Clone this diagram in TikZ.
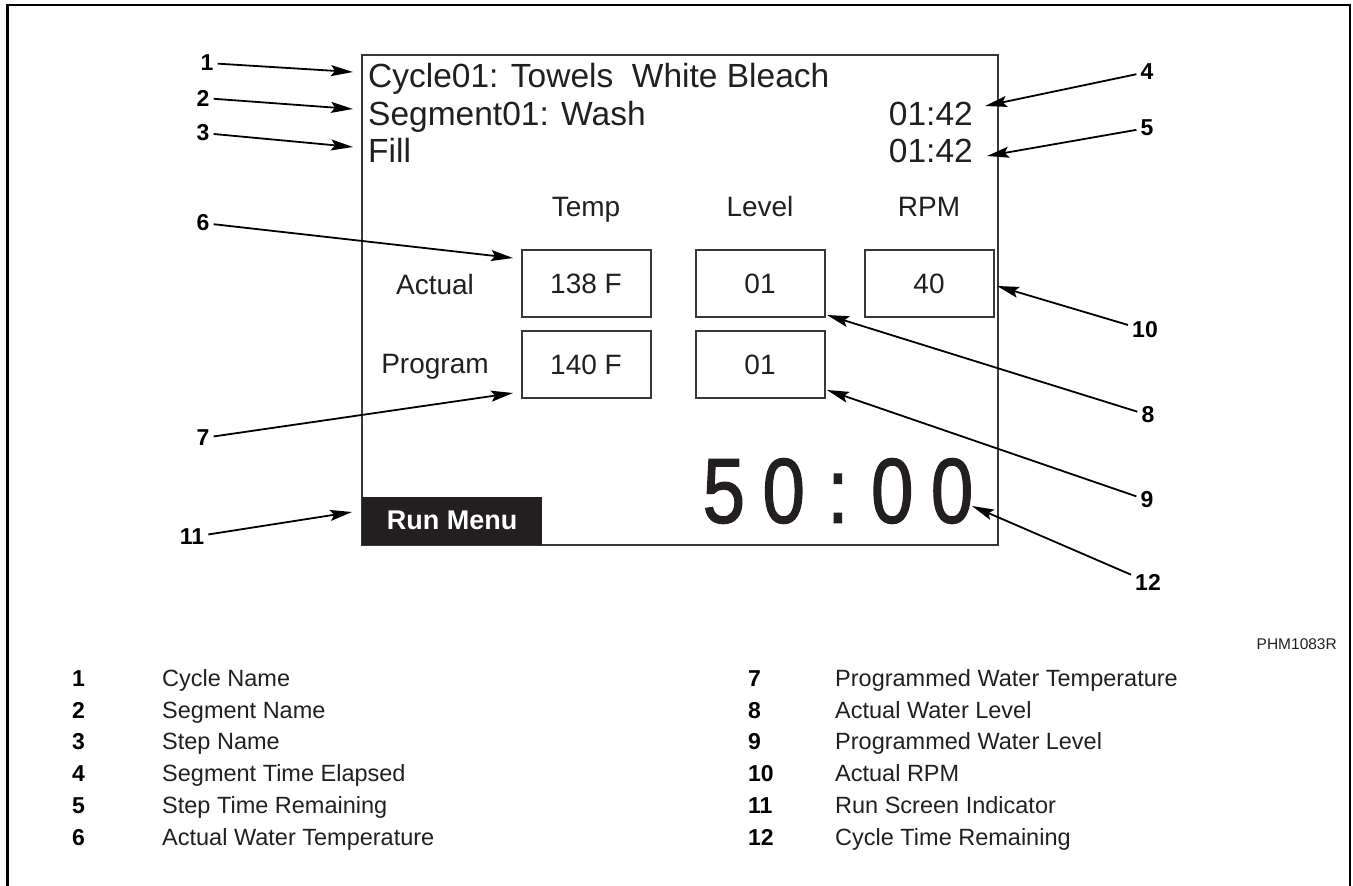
\documentclass[tikz,border=0pt]{standalone}
\usepackage{fontspec}
\setmainfont{Liberation Sans}
\newfontfamily\clockfont[FakeBold=1.6]{Liberation Sans}
\usepackage{tikz}
\usetikzlibrary{arrows.meta, positioning}
\definecolor{figink}{RGB}{35,31,32}
\definecolor{figline}{RGB}{55,55,55}
\newcommand{\fsz}[1]{\fontsize{#1}{#1}\selectfont}
\tikzstyle{screentext} = [anchor=base west, inner sep=0pt, text=figink, font=\fsz{33.5}]
\tikzstyle{timetext} = [anchor=base east, inner sep=0pt, text=figink, font=\fsz{33.5}]
\tikzstyle{valbox} = [rectangle, draw=figline, line width=2pt,
minimum width=129pt, minimum height=67pt, inner sep=0pt,
text=figink, font=\fsz{28}]
\tikzstyle{coltext} = [anchor=base, inner sep=0pt, text=figink, font=\fsz{28}]
\tikzstyle{callout} = [inner sep=4pt, font=\bfseries\fsz{23}]
\tikzstyle{keynum} = [anchor=base west, inner sep=0pt, font=\bfseries\fsz{23}]
\tikzstyle{keytext} = [anchor=base west, inner sep=0pt, text=figink, font=\fsz{23.5}]
\tikzstyle{arrow} = [-{Stealth[length=22pt, width=11pt, inset=4pt]}, line width=1.8pt]

\begin{document}
\begin{tikzpicture}[x=1pt, y=-1pt]
    \useasboundingbox (0,0) rectangle (1353,886);
    % frame, open at the bottom
    \draw[line width=2.5pt] (7.5,886) -- (7.5,5) -- (1350,5) -- (1350,886);

    % the screen
    \draw[draw=figline, line width=2pt] (362,55) rectangle (998,545);
    \node (cyc)  [screentext] at (368,87)  {Cycle01: Towels\ \ White Bleach};
    \node (seg)  [screentext] at (368,125) {Segment01: Wash};
    \node (fill) [screentext] at (368,162) {Fill};
    \node (segt) [timetext] at (973,125) {01:42};
    \node (fillt)[timetext] at (973,162) {01:42};

    \node (tact)  [valbox] at (586,283.5) {138 F};
    \node (tprog) [valbox, below=12pt of tact] {140 F};
    \node (lact)  [valbox, right=43pt of tact] {01};
    \node (lprog) [valbox, below=12pt of lact] {01};
    \node (ract)  [valbox, right=38pt of lact] {40};

    \node (htemp)  [coltext] at ([yshift=33pt]tact.north) {Temp};
    \node (hlevel) [coltext] at ([yshift=33pt]lact.north) {Level};
    \node (hrpm)   [coltext] at ([yshift=33pt]ract.north) {RPM};
    \node (ractual) [coltext] at (435,294) {Actual};
    \node (rprog)   [coltext] at (435,373) {Program};

    \node (run) [fill=figink, text=white, font=\bfseries\fsz{27}, inner sep=0pt,
        minimum width=180pt, minimum height=48pt, anchor=south west] at (362,545) {Run Menu};
    \node (clock) [text=figink, font=\clockfont\fsz{92}, inner sep=0pt] at (838,491)
        {\scalebox{0.83}[1]{5\hspace{21pt}0\hspace{27pt}:\hspace{27pt}0\hspace{21pt}0}};

    % callouts
    \node (c1)  [callout] at (207,63)   {1};
    \node (c2)  [callout] at (203,98)   {2};
    \node (c3)  [callout] at (203,133)  {3};
    \node (c4)  [callout] at (1147,72)  {4};
    \node (c5)  [callout] at (1147,128) {5};
    \node (c6)  [callout] at (203,223)  {6};
    \node (c7)  [callout] at (203,438)  {7};
    \node (c8)  [callout] at (1148,415) {8};
    \node (c9)  [callout] at (1147,500) {9};
    \node (c10) [callout] at (1145,330) {10};
    \node (c11) [callout] at (192,537)  {11};
    \node (c12) [callout] at (1148,582) {12};

    \coordinate (p1)  at (353,72);
    \coordinate (p2)  at (353,109);
    \coordinate (p3)  at (353,147);
    \coordinate (p4)  at (985,106);
    \coordinate (p5)  at (987,156);
    \coordinate (p6)  at (513,258);
    \coordinate (p7)  at (513,393);
    \coordinate (p8)  at (827,315);
    \coordinate (p9)  at (827,390);
    \coordinate (p10) at (997,286);
    \coordinate (p11) at (352,512);
    \coordinate (p12) at (972,506);

    \draw[arrow] (c1)  -- (p1);
    \draw[arrow] (c2)  -- (p2);
    \draw[arrow] (c3)  -- (p3);
    \draw[arrow] (c4)  -- (p4);
    \draw[arrow] (c5)  -- (p5);
    \draw[arrow] (c6)  -- (p6);
    \draw[arrow] (c7)  -- (p7);
    \draw[arrow] (c8)  -- (p8);
    \draw[arrow] (c9)  -- (p9);
    \draw[arrow] (c10) -- (p10);
    \draw[arrow] (c11) -- (p11);
    \draw[arrow] (c12) -- (p12);

    \node (ref) [anchor=base east, inner sep=0pt, text=figink, font=\fsz{15.5}] at (1337,649) {PHM1083R};

    % key
    \node (k1)  [keynum] at (72,686)  {1};
    \node (k2)  [keynum] at (72,718)  {2};
    \node (k3)  [keynum] at (72,749)  {3};
    \node (k4)  [keynum] at (72,781)  {4};
    \node (k5)  [keynum] at (72,813)  {5};
    \node (k6)  [keynum] at (72,845)  {6};
    \node (k7)  [keynum] at (748,686) {7};
    \node (k8)  [keynum] at (748,718) {8};
    \node (k9)  [keynum] at (748,749) {9};
    \node (k10) [keynum] at (748,781) {10};
    \node (k11) [keynum] at (748,813) {11};
    \node (k12) [keynum] at (748,845) {12};
    \node (d1)  [keytext] at (162,686) {Cycle Name};
    \node (d2)  [keytext] at (162,718) {Segment Name};
    \node (d3)  [keytext] at (162,749) {Step Name};
    \node (d4)  [keytext] at (162,781) {Segment Time Elapsed};
    \node (d5)  [keytext] at (162,813) {Step Time Remaining};
    \node (d6)  [keytext] at (162,845) {Actual Water Temperature};
    \node (d7)  [keytext] at (835,686) {Programmed Water Temperature};
    \node (d8)  [keytext] at (835,718) {Actual Water Level};
    \node (d9)  [keytext] at (835,749) {Programmed Water Level};
    \node (d10) [keytext] at (835,781) {Actual RPM};
    \node (d11) [keytext] at (835,813) {Run Screen Indicator};
    \node (d12) [keytext] at (835,845) {Cycle Time Remaining};
\end{tikzpicture}
\end{document}
